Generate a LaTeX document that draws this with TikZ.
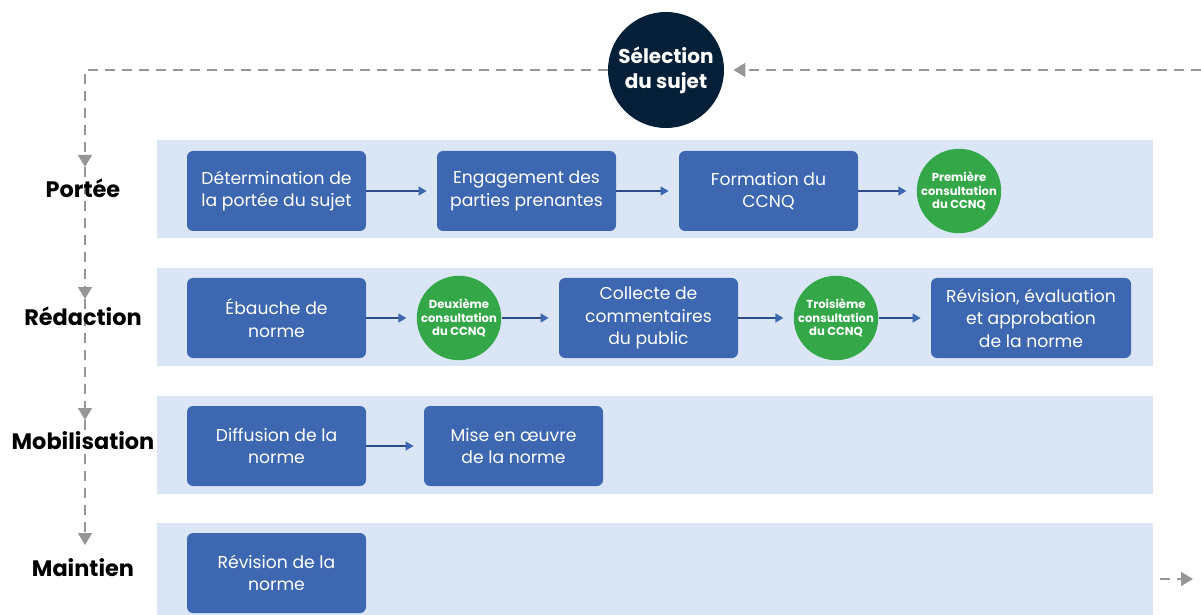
\documentclass[tikz,border=0pt]{standalone}
\usepackage{fontspec}
\setmainfont{Poppins}
\usetikzlibrary{arrows.meta}
\definecolor{bandblue}{RGB}{218,230,245}
\definecolor{stepblue}{RGB}{61,103,177}
\definecolor{consultgreen}{RGB}{52,168,72}
\definecolor{selectnavy}{RGB}{3,32,56}
\definecolor{loopgray}{RGB}{150,150,150}
\definecolor{linkblue}{RGB}{44,74,135}

\begin{document}
\begin{tikzpicture}[
        x=0.5pt, y=-0.5pt,
        band/.style={rectangle, fill=bandblue, minimum width=498pt, minimum height=49pt, inner sep=0pt},
        stepbox/.style={rectangle, rounded corners=3pt, fill=stepblue, minimum width=89.5pt, minimum height=40pt, inner sep=0pt, text=white, align=center, font=\fontsize{8.6}{11.2}\selectfont},
        widebox/.style={stepbox, minimum width=100pt},
        consult/.style={circle, fill=consultgreen, minimum size=41pt, inner sep=0pt, text=white, align=center, font=\fontsize{5.8}{6.6}\selectfont\bfseries},
        selection/.style={circle, fill=selectnavy, minimum size=58pt, inner sep=0pt, text=white, align=center, font=\fontsize{10}{12.5}\selectfont\bfseries},
        phase/.style={text=black, font=\fontsize{11.2}{13}\selectfont\bfseries},
        link/.style={draw=linkblue, line width=0.7pt, shorten >=5pt, -{Triangle[length=4pt, width=4.5pt, color=stepblue]}},
        loop/.style={draw=loopgray, line width=0.8pt, dash pattern=on 5pt off 3.5pt, -{Triangle[length=6pt, width=7pt, color=loopgray]}}
    ]
    \useasboundingbox (0,0) rectangle (1201,615);

    % Bands
    \node[band] (bandPortee) at (655,189) {};
    \node[band] (bandRedaction) at (655,317) {};
    \node[band] (bandMobil) at (655,445) {};
    \node[band] (bandMaintien) at (655,572) {};

    % Topic selection
    \node[selection] (sel) at (666,70) {S\'election\\ du sujet};

    % Dashed cycle
    \coordinate (corner) at (85,70);
    \coordinate (tPortee) at (85,167);
    \coordinate (tRedaction) at (85,299);
    \coordinate (tMobil) at (85,420);
    \coordinate (tMaintien) at (85,545);
    \coordinate (rStart) at (1201,70);
    \coordinate (mStart) at (1160,579);
    \coordinate (mEnd) at (1193,579);

    \draw[loop] (sel.west) -- (corner) -- (tPortee);
    \draw[loop] (tPortee) -- (tRedaction);
    \draw[loop] (tRedaction) -- (tMobil);
    \draw[loop] (tMobil) -- (tMaintien);
    \draw[loop, shorten >=4.5pt] (rStart) -- (sel);
    \draw[loop] (mStart) -- (mEnd);

    % Phase labels
    \node[phase] (lPortee) at (83,188) {Port\'ee};
    \node[phase] (lRedaction) at (83,316) {R\'edaction};
    \node[phase] (lMobil) at (83,441) {Mobilisation};
    \node[phase] (lMaintien) at (83,568) {Maintien};

    % Portee
    \node[stepbox] (scope) at (276.5,191) {D\'etermination de\\ la port\'ee du sujet};
    \node[stepbox] (engage) at (526.5,191) {Engagement des\\ parties prenantes};
    \node[stepbox] (ccnq) at (768.5,191) {Formation du\\ CCNQ};
    \node[consult] (consultA) at (959,191) {Premi\`ere\\ consultation\\ du CCNQ};

    \draw[link] (scope) -- (engage);
    \draw[link] (engage) -- (ccnq);
    \draw[link] (ccnq) -- (consultA);

    % Redaction
    \node[stepbox] (draft) at (276.5,318) {\'Ebauche de\\ norme};
    \node[consult] (consultB) at (459,318) {Deuxi\`eme\\ consultation\\ du CCNQ};
    \node[stepbox] (collect) at (648.5,318) {Collecte de\\ commentaires\\ du public};
    \node[consult] (consultC) at (836,318) {Troisi\`eme\\ consultation\\ du CCNQ};
    \node[widebox] (approve) at (1031,318) {R\'evision, \'evaluation\\ et approbation\\ de la norme};

    \draw[link] (draft) -- (consultB);
    \draw[link] (consultB) -- (collect);
    \draw[link] (collect) -- (consultC);
    \draw[link] (consultC) -- (approve);

    % Mobilisation
    \node[stepbox] (spread) at (276.5,446) {Diffusion de la\\ norme};
    \node[stepbox] (apply) at (513.5,446) {Mise en {\oe}uvre\\ de la norme};

    \draw[link] (spread) -- (apply);

    % Maintien
    \node[stepbox] (review) at (276.5,573) {R\'evision de la\\ norme};

\end{tikzpicture}
\end{document}
